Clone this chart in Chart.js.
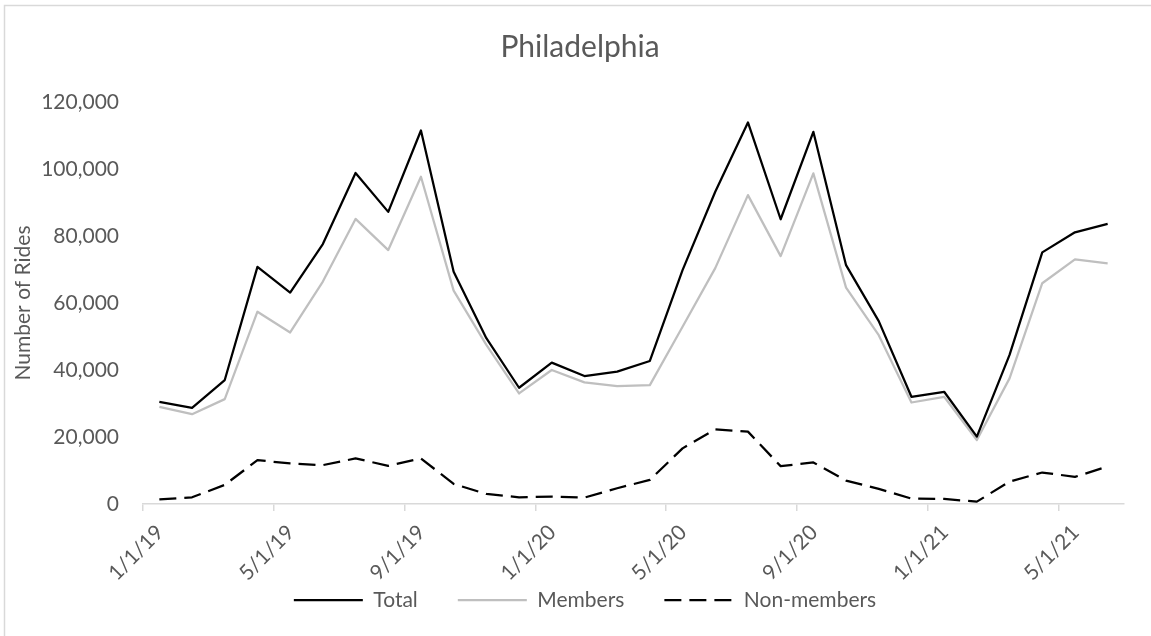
<!DOCTYPE html>
<html>
<head>
<meta charset="utf-8">
<title>Philadelphia</title>
<script src="https://cdn.jsdelivr.net/npm/chart.js@4"></script>
<style>
  html, body { margin: 0; padding: 0; background: #ffffff; }
  #wrap { width: 1151px; height: 636px; position: relative; }
</style>
</head>
<body>
<div id="wrap"><canvas id="rideChart"></canvas></div>
<script>
// Monthly rides, Jan 2019 - Jun 2021 (one entry per month)
const months = [
  "1/1/19", "2/1/19", "3/1/19", "4/1/19", "5/1/19", "6/1/19",
  "7/1/19", "8/1/19", "9/1/19", "10/1/19", "11/1/19", "12/1/19",
  "1/1/20", "2/1/20", "3/1/20", "4/1/20", "5/1/20", "6/1/20",
  "7/1/20", "8/1/20", "9/1/20", "10/1/20", "11/1/20", "12/1/20",
  "1/1/21", "2/1/21", "3/1/21", "4/1/21", "5/1/21", "6/1/21",
];
const totalRides = [
  30500, 28700, 37000, 70800, 63100, 77600, 98800, 87200, 111500, 69300, 49500, 34700,
  42200, 38200, 39500, 42700, 69800, 93200, 113900, 85000, 111100, 71300, 54600, 32000,
  33500, 20100, 44500, 75100, 81100, 83600,
];
const memberRides = [
  29000, 26800, 31300, 57400, 51200, 66400, 85100, 75800, 97700, 63700, 47500, 33000,
  40000, 36300, 35200, 35500, 52900, 70400, 92200, 74000, 98700, 64600, 50400, 30300,
  32000, 19100, 37500, 65900, 73000, 71800,
];
const nonMemberRides = [
  1400, 2000, 5700, 13100, 12100, 11600, 13600, 11400, 13600, 6000, 3000, 2000,
  2200, 1900, 4700, 7200, 16600, 22300, 21600, 11300, 12400, 7000, 4500, 1600,
  1500, 700, 6700, 9400, 8100, 11200,
];
// Only every 4th month gets a tick on the date axis
const tickEvery = 4;
const yMax = 120000;
const yStep = 20000;

// Each month sits in the middle of its slot, ticks on the slot edges
function toPoints(values) {
  return values.map((v, i) => ({ x: i + 0.5, y: v }));
}

// White background plus the light frame of the chart area (top/left edges)
const chartFrame = {
  id: "chartFrame",
  beforeDraw(chart) {
    const { ctx, width, height } = chart;
    ctx.save();
    ctx.fillStyle = "#ffffff";
    ctx.fillRect(0, 0, width, height);
    ctx.strokeStyle = "#d9d9d9";
    ctx.lineWidth = 1.5;
    ctx.strokeRect(4.5, 5.5, width + 10, height + 10);
    ctx.restore();
  },
};

// Title and legend sit a bit right of the layout centre in the original,
// and the rotated date labels reach down past the x axis box (which is
// clipped), so let that box run to the bottom of the canvas.
const layoutNudge = {
  id: "layoutNudge",
  afterLayout(chart) {
    if (chart.legend) {
      chart.legend.left += 23;
      chart.legend.right += 23;
    }
    if (chart.titleBlock) {
      chart.titleBlock.left += 18;
      chart.titleBlock.right += 18;
    }
    chart.scales.x.bottom = chart.height;
  },
};

// Legend samples should copy the dataset line (width + dash), not the point style
function legendLabels(chart) {
  const items = Chart.defaults.plugins.legend.labels.generateLabels(chart);
  items.forEach((item) => {
    const ds = chart.data.datasets[item.datasetIndex];
    item.lineDash = ds.borderDash || [];
    item.lineWidth = ds.borderWidth;
    item.strokeStyle = ds.borderColor;
    item.lineCap = "butt";
  });
  return items;
}

Chart.defaults.font.family = "Lato, 'Open Sans', sans-serif";
Chart.defaults.color = "#595959";

const ctx = document.getElementById("rideChart").getContext("2d");
new Chart(ctx, {
  type: "line",
  data: {
    datasets: [
      {
        label: "Total",
        data: toPoints(totalRides),
        borderColor: "#000000",
        backgroundColor: "#000000",
        borderWidth: 2.25,
        pointRadius: 0,
        tension: 0,
        borderJoinStyle: "round",
      },
      {
        label: "Members",
        data: toPoints(memberRides),
        borderColor: "#bfbfbf",
        backgroundColor: "#bfbfbf",
        borderWidth: 2.25,
        pointRadius: 0,
        tension: 0,
        borderJoinStyle: "round",
      },
      {
        label: "Non-members",
        data: toPoints(nonMemberRides),
        borderColor: "#000000",
        backgroundColor: "#000000",
        borderWidth: 2.25,
        borderDash: [17, 8],
        pointRadius: 0,
        tension: 0,
        borderJoinStyle: "round",
      },
    ],
  },
  options: {
    responsive: true,
    maintainAspectRatio: false,
    animation: false,
    layout: {
      padding: { left: 0, right: 27, top: 0, bottom: 15.5 },
    },
    plugins: {
      title: {
        display: true,
        text: "Philadelphia",
        color: "#595959",
        font: { size: 30, weight: "normal" },
        padding: { top: 29, bottom: 37 },
      },
      legend: {
        position: "bottom",
        labels: {
          usePointStyle: true,
          pointStyle: "line",
          pointStyleWidth: 69,
          padding: 40,
          color: "#595959",
          font: { size: 21 },
          generateLabels: legendLabels,
        },
      },
      tooltip: { enabled: false },
    },
    scales: {
      x: {
        type: "linear",
        min: 0,
        max: months.length,
        afterBuildTicks: (axis) => {
          axis.ticks = months
            .map((m, i) => i)
            .filter((i) => i % tickEvery === 0)
            .map((i) => ({ value: i }));
        },
        ticks: {
          autoSkip: false,
          maxRotation: 45,
          minRotation: 45,
          labelOffset: 17,
          padding: 9,
          font: { size: 21 },
          callback: (value) => months[value],
        },
        grid: {
          drawOnChartArea: false,
          drawTicks: true,
          tickLength: 7,
          color: "#d9d9d9",
          lineWidth: 1.5,
        },
        border: { color: "#d9d9d9", width: 1.5 },
        afterFit: (axis) => {
          axis.height = 45.5;
        },
      },
      y: {
        min: 0,
        max: yMax,
        ticks: {
          stepSize: yStep,
          padding: 24,
          font: { size: 21 },
          callback: (value) => value.toLocaleString("en-US"),
        },
        grid: { display: false, drawTicks: false },
        border: { display: false },
        title: {
          display: true,
          text: "Number of Rides",
          color: "#595959",
          font: { size: 21 },
          padding: { top: 11, bottom: 0 },
        },
        afterFit: (axis) => {
          axis.width = 143;
        },
      },
    },
  },
  plugins: [chartFrame, layoutNudge],
});
</script>
</body>
</html>
